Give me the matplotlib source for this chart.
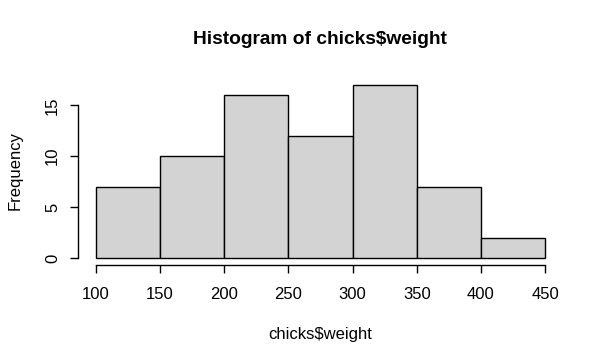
import matplotlib
matplotlib.use("Agg")
import matplotlib.pyplot as plt

# histogram of chicks$weight
bin_edges = [100, 150, 200, 250, 300, 350, 400, 450]
counts = [7, 10, 16, 12, 17, 7, 2]
x_ticks = [100, 150, 200, 250, 300, 350, 400, 450]
y_ticks = [0, 5, 10, 15]

plt.rcParams["font.family"] = ["Liberation Sans", "DejaVu Sans"]

W, H = 604, 363
fig = plt.figure(figsize=(W / 100, H / 100), dpi=100)
ax = fig.add_axes([78 / W, 1 - 265 / H, (563 - 78) / W, (265 - 78) / H])

lefts = bin_edges[:-1]
widths = [b - a for a, b in zip(bin_edges[:-1], bin_edges[1:])]
ax.bar(lefts, counts, width=widths, align="edge", color="#d3d3d3",
       edgecolor="black", linewidth=1.0)

ax.set_xlim(86, 464)
ax.set_ylim(-0.68, 17.68)

for s in ("top", "right"):
    ax.spines[s].set_visible(False)
ax.spines["left"].set_bounds(0, 15)
ax.spines["bottom"].set_bounds(100, 450)
for s in ("left", "bottom"):
    ax.spines[s].set_linewidth(1.0)

ax.set_xticks(x_ticks)
ax.set_yticks(y_ticks)
ax.tick_params(axis="both", length=6, width=1.0, labelsize=12)
ax.tick_params(axis="x", pad=10)
ax.tick_params(axis="y", pad=7)
for lab in ax.get_yticklabels():
    lab.set_rotation(90)
    lab.set_va("center")

fig.text(320 / W, 1 - 40 / H, "Histogram of chicks$weight", ha="center",
         va="center", fontsize=13.8, fontweight="bold")
fig.text(320 / W, 1 - 334 / H, "chicks$weight", ha="center", va="center",
         fontsize=12)
fig.text(15 / W, 1 - 171 / H, "Frequency", ha="center", va="center",
         rotation=90, fontsize=12)

fig.savefig("out.png", dpi=100)
